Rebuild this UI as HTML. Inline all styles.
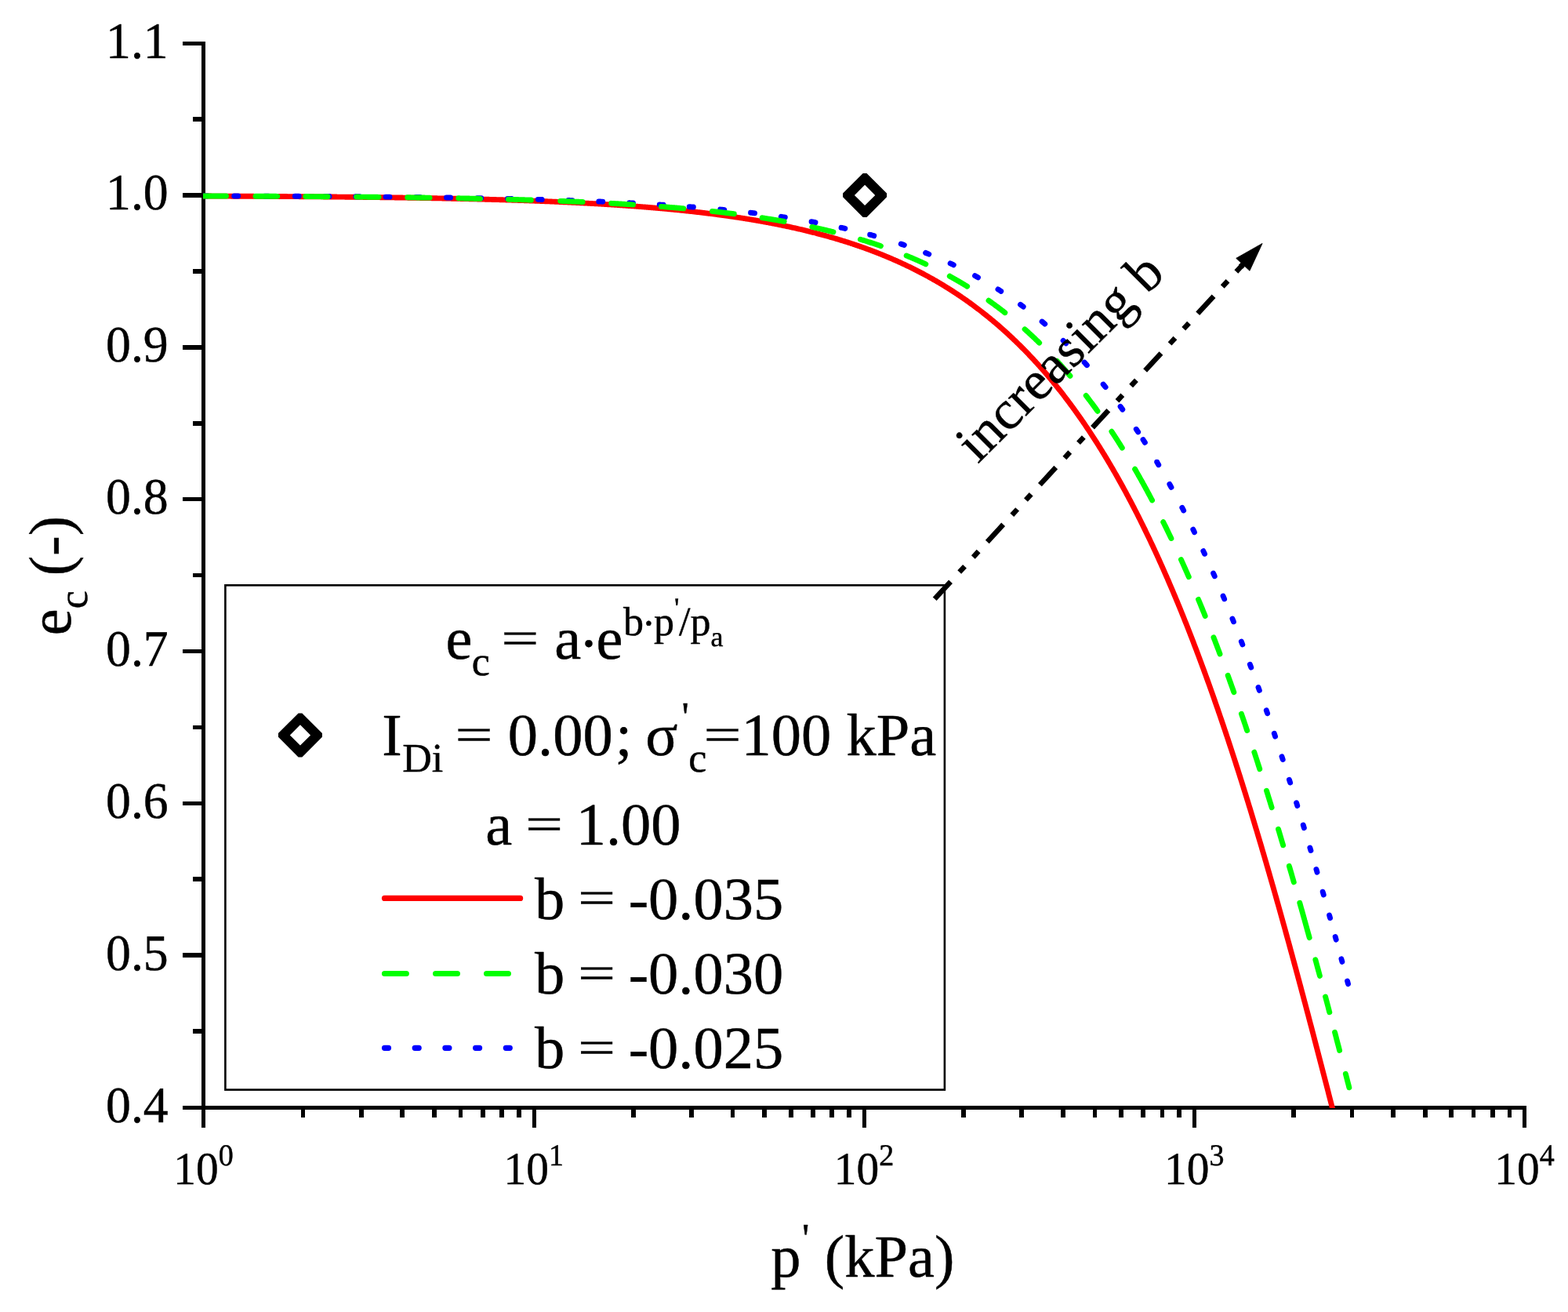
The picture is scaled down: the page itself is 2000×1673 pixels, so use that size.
<!DOCTYPE html>
<html lang="en">
<head>
<meta charset="utf-8">
<title>e_c versus p' chart</title>
<style>
html,body{margin:0;padding:0;background:#fff;}
body{width:2000px;height:1673px;overflow:hidden;}
svg{display:block;}
.t, .t text{font-family:"Liberation Serif","DejaVu Serif",serif;fill:#000;stroke:#000;stroke-width:0.45px;stroke-linejoin:round;text-rendering:geometricPrecision;}
</style>
</head>
<body>
<svg width="2000" height="1673" viewBox="0 0 2000 1673">
<rect x="0" y="0" width="2000" height="1673" fill="#fff"/>
<g fill="#000" shape-rendering="crispEdges">
<rect x="257" y="53" width="5" height="1385"/>
<rect x="233" y="1410" width="1714" height="5"/>
<rect x="233" y="53" width="24" height="5"/>
<rect x="246" y="149" width="11" height="6"/>
<rect x="233" y="246" width="24" height="6"/>
<rect x="246" y="343" width="11" height="6"/>
<rect x="233" y="440" width="24" height="6"/>
<rect x="246" y="537" width="11" height="6"/>
<rect x="233" y="634" width="24" height="5"/>
<rect x="246" y="731" width="11" height="5"/>
<rect x="233" y="828" width="24" height="5"/>
<rect x="246" y="925" width="11" height="5"/>
<rect x="233" y="1022" width="24" height="5"/>
<rect x="246" y="1118" width="11" height="6"/>
<rect x="233" y="1215" width="24" height="6"/>
<rect x="246" y="1312" width="11" height="6"/>
<rect x="233" y="1410" width="24" height="5"/>
<rect x="257" y="1415" width="5" height="23"/>
<rect x="384" y="1415" width="5" height="10"/>
<rect x="458" y="1415" width="6" height="10"/>
<rect x="510" y="1415" width="6" height="10"/>
<rect x="551" y="1415" width="6" height="10"/>
<rect x="585" y="1415" width="5" height="10"/>
<rect x="613" y="1415" width="6" height="10"/>
<rect x="637" y="1415" width="6" height="10"/>
<rect x="659" y="1415" width="6" height="10"/>
<rect x="679" y="1415" width="5" height="23"/>
<rect x="805" y="1415" width="6" height="10"/>
<rect x="879" y="1415" width="6" height="10"/>
<rect x="932" y="1415" width="5" height="10"/>
<rect x="972" y="1415" width="6" height="10"/>
<rect x="1006" y="1415" width="6" height="10"/>
<rect x="1034" y="1415" width="6" height="10"/>
<rect x="1058" y="1415" width="6" height="10"/>
<rect x="1080" y="1415" width="6" height="10"/>
<rect x="1100" y="1415" width="5" height="23"/>
<rect x="1226" y="1415" width="6" height="10"/>
<rect x="1300" y="1415" width="6" height="10"/>
<rect x="1353" y="1415" width="6" height="10"/>
<rect x="1394" y="1415" width="5" height="10"/>
<rect x="1427" y="1415" width="6" height="10"/>
<rect x="1455" y="1415" width="6" height="10"/>
<rect x="1480" y="1415" width="5" height="10"/>
<rect x="1501" y="1415" width="6" height="10"/>
<rect x="1521" y="1415" width="5" height="23"/>
<rect x="1647" y="1415" width="6" height="10"/>
<rect x="1722" y="1415" width="5" height="10"/>
<rect x="1774" y="1415" width="6" height="10"/>
<rect x="1815" y="1415" width="6" height="10"/>
<rect x="1848" y="1415" width="6" height="10"/>
<rect x="1877" y="1415" width="5" height="10"/>
<rect x="1901" y="1415" width="6" height="10"/>
<rect x="1923" y="1415" width="5" height="10"/>
<rect x="1942" y="1415" width="5" height="23"/>
</g>
<clipPath id="plotclip"><rect x="259" y="0" width="1741" height="1413"/></clipPath>
<g fill="none" stroke-linejoin="round" clip-path="url(#plotclip)">
<path d="M259.50,250.04 L260.48,250.04 L261.45,250.04 L262.43,250.05 L263.41,250.05 L264.38,250.05 L265.36,250.06 L266.34,250.06 L267.31,250.07 L268.29,250.07 L269.26,250.07 L270.24,250.08 L271.22,250.08 L272.19,250.08 L273.17,250.09 L274.15,250.09 L275.12,250.10 L276.10,250.10 L277.08,250.10 L278.05,250.11 L279.03,250.11 L280.01,250.12 L280.98,250.12 L281.96,250.12 L282.94,250.13 L283.91,250.13 L284.89,250.14 L285.87,250.14 L286.84,250.14 L287.82,250.15 L288.79,250.15 L289.77,250.16 L290.75,250.16 L291.72,250.17 L292.70,250.17 L293.68,250.17 L294.65,250.18 L295.63,250.18 L296.61,250.19 L297.58,250.19 L298.56,250.20 L299.54,250.20 L300.51,250.21 L301.49,250.21 L302.47,250.22 L303.44,250.22 L304.42,250.22 L305.40,250.23 L306.37,250.23 L307.35,250.24 L308.32,250.24 L309.30,250.25 L310.28,250.25 L311.25,250.26 L312.23,250.26 L313.21,250.27 L314.18,250.27 L315.16,250.28 L316.14,250.28 L317.11,250.29 L318.09,250.29 L319.07,250.30 L320.04,250.30 L321.02,250.31 L322.00,250.31 L322.97,250.32 L323.95,250.32 L324.92,250.33 L325.90,250.33 L326.88,250.34 L327.85,250.34 L328.83,250.35 L329.81,250.35 L330.78,250.36 L331.76,250.36 L332.74,250.37 L333.71,250.37 L334.69,250.38 L335.67,250.39 L336.64,250.39 L337.62,250.40 L338.60,250.40 L339.57,250.41 L340.55,250.41 L341.53,250.42 L342.50,250.42 L343.48,250.43 L344.45,250.44 L345.43,250.44 L346.41,250.45 L347.38,250.45 L348.36,250.46 L349.34,250.47 L350.31,250.47 L351.29,250.48 L352.27,250.48 L353.24,250.49 L354.22,250.50 L355.20,250.50 L356.17,250.51 L357.15,250.51 L358.13,250.52 L359.10,250.53 L360.08,250.53 L361.06,250.54 L362.03,250.55 L363.01,250.55 L363.98,250.56 L364.96,250.56 L365.94,250.57 L366.91,250.58 L367.89,250.58 L368.87,250.59 L369.84,250.60 L370.82,250.60 L371.80,250.61 L372.77,250.62 L373.75,250.62 L374.73,250.63 L375.70,250.64 L376.68,250.64 L377.66,250.65 L378.63,250.66 L379.61,250.66 L380.58,250.67 L381.56,250.68 L382.54,250.69 L383.51,250.69 L384.49,250.70 L385.47,250.71 L386.44,250.71 L387.42,250.72 L388.40,250.73 L389.37,250.74 L390.35,250.74 L391.33,250.75 L392.30,250.76 L393.28,250.77 L394.26,250.77 L395.23,250.78 L396.21,250.79 L397.19,250.80 L398.16,250.80 L399.14,250.81 L400.11,250.82 L401.09,250.83 L402.07,250.84 L403.04,250.84 L404.02,250.85 L405.00,250.86 L405.97,250.87 L406.95,250.88 L407.93,250.88 L408.90,250.89 L409.88,250.90 L410.86,250.91 L411.83,250.92 L412.81,250.93 L413.79,250.93 L414.76,250.94 L415.74,250.95 L416.72,250.96 L417.69,250.97 L418.67,250.98 L419.64,250.98 L420.62,250.99 L421.60,251.00 L422.57,251.01 L423.55,251.02 L424.53,251.03 L425.50,251.04 L426.48,251.05 L427.46,251.06 L428.43,251.06 L429.41,251.07 L430.39,251.08 L431.36,251.09 L432.34,251.10 L433.32,251.11 L434.29,251.12 L435.27,251.13 L436.24,251.14 L437.22,251.15 L438.20,251.16 L439.17,251.17 L440.15,251.18 L441.13,251.19 L442.10,251.20 L443.08,251.21 L444.06,251.22 L445.03,251.23 L446.01,251.24 L446.99,251.25 L447.96,251.26 L448.94,251.27 L449.92,251.28 L450.89,251.29 L451.87,251.30 L452.85,251.31 L453.82,251.32 L454.80,251.33 L455.77,251.34 L456.75,251.35 L457.73,251.36 L458.70,251.37 L459.68,251.38 L460.66,251.39 L461.63,251.40 L462.61,251.42 L463.59,251.43 L464.56,251.44 L465.54,251.45 L466.52,251.46 L467.49,251.47 L468.47,251.48 L469.45,251.49 L470.42,251.51 L471.40,251.52 L472.38,251.53 L473.35,251.54 L474.33,251.55 L475.30,251.56 L476.28,251.57 L477.26,251.59 L478.23,251.60 L479.21,251.61 L480.19,251.62 L481.16,251.63 L482.14,251.65 L483.12,251.66 L484.09,251.67 L485.07,251.68 L486.05,251.70 L487.02,251.71 L488.00,251.72 L488.98,251.73 L489.95,251.75 L490.93,251.76 L491.90,251.77 L492.88,251.79 L493.86,251.80 L494.83,251.81 L495.81,251.82 L496.79,251.84 L497.76,251.85 L498.74,251.86 L499.72,251.88 L500.69,251.89 L501.67,251.90 L502.65,251.92 L503.62,251.93 L504.60,251.95 L505.58,251.96 L506.55,251.97 L507.53,251.99 L508.51,252.00 L509.48,252.02 L510.46,252.03 L511.43,252.04 L512.41,252.06 L513.39,252.07 L514.36,252.09 L515.34,252.10 L516.32,252.12 L517.29,252.13 L518.27,252.15 L519.25,252.16 L520.22,252.18 L521.20,252.19 L522.18,252.21 L523.15,252.22 L524.13,252.24 L525.11,252.25 L526.08,252.27 L527.06,252.28 L528.04,252.30 L529.01,252.32 L529.99,252.33 L530.96,252.35 L531.94,252.36 L532.92,252.38 L533.89,252.40 L534.87,252.41 L535.85,252.43 L536.82,252.44 L537.80,252.46 L538.78,252.48 L539.75,252.49 L540.73,252.51 L541.71,252.53 L542.68,252.54 L543.66,252.56 L544.64,252.58 L545.61,252.60 L546.59,252.61 L547.57,252.63 L548.54,252.65 L549.52,252.67 L550.49,252.68 L551.47,252.70 L552.45,252.72 L553.42,252.74 L554.40,252.76 L555.38,252.77 L556.35,252.79 L557.33,252.81 L558.31,252.83 L559.28,252.85 L560.26,252.87 L561.24,252.88 L562.21,252.90 L563.19,252.92 L564.17,252.94 L565.14,252.96 L566.12,252.98 L567.09,253.00 L568.07,253.02 L569.05,253.04 L570.02,253.06 L571.00,253.08 L571.98,253.10 L572.95,253.12 L573.93,253.14 L574.91,253.16 L575.88,253.18 L576.86,253.20 L577.84,253.22 L578.81,253.24 L579.79,253.26 L580.77,253.28 L581.74,253.30 L582.72,253.32 L583.70,253.34 L584.67,253.37 L585.65,253.39 L586.62,253.41 L587.60,253.43 L588.58,253.45 L589.55,253.47 L590.53,253.50 L591.51,253.52 L592.48,253.54 L593.46,253.56 L594.44,253.59 L595.41,253.61 L596.39,253.63 L597.37,253.65 L598.34,253.68 L599.32,253.70 L600.30,253.72 L601.27,253.75 L602.25,253.77 L603.23,253.79 L604.20,253.82 L605.18,253.84 L606.15,253.86 L607.13,253.89 L608.11,253.91 L609.08,253.94 L610.06,253.96 L611.04,253.99 L612.01,254.01 L612.99,254.04 L613.97,254.06 L614.94,254.09 L615.92,254.11 L616.90,254.14 L617.87,254.16 L618.85,254.19 L619.83,254.21 L620.80,254.24 L621.78,254.27 L622.75,254.29 L623.73,254.32 L624.71,254.35 L625.68,254.37 L626.66,254.40 L627.64,254.43 L628.61,254.45 L629.59,254.48 L630.57,254.51 L631.54,254.54 L632.52,254.56 L633.50,254.59 L634.47,254.62 L635.45,254.65 L636.43,254.67 L637.40,254.70 L638.38,254.73 L639.36,254.76 L640.33,254.79 L641.31,254.82 L642.28,254.85 L643.26,254.88 L644.24,254.91 L645.21,254.94 L646.19,254.97 L647.17,255.00 L648.14,255.03 L649.12,255.06 L650.10,255.09 L651.07,255.12 L652.05,255.15 L653.03,255.18 L654.00,255.21 L654.98,255.24 L655.96,255.27 L656.93,255.30 L657.91,255.34 L658.89,255.37 L659.86,255.40 L660.84,255.43 L661.81,255.47 L662.79,255.50 L663.77,255.53 L664.74,255.56 L665.72,255.60 L666.70,255.63 L667.67,255.66 L668.65,255.70 L669.63,255.73 L670.60,255.77 L671.58,255.80 L672.56,255.83 L673.53,255.87 L674.51,255.90 L675.49,255.94 L676.46,255.97 L677.44,256.01 L678.41,256.04 L679.39,256.08 L680.37,256.12 L681.34,256.15 L682.32,256.19 L683.30,256.23 L684.27,256.26 L685.25,256.30 L686.23,256.34 L687.20,256.37 L688.18,256.41 L689.16,256.45 L690.13,256.49 L691.11,256.52 L692.09,256.56 L693.06,256.60 L694.04,256.64 L695.02,256.68 L695.99,256.72 L696.97,256.76 L697.94,256.80 L698.92,256.84 L699.90,256.88 L700.87,256.92 L701.85,256.96 L702.83,257.00 L703.80,257.04 L704.78,257.08 L705.76,257.12 L706.73,257.16 L707.71,257.20 L708.69,257.25 L709.66,257.29 L710.64,257.33 L711.62,257.37 L712.59,257.42 L713.57,257.46 L714.55,257.50 L715.52,257.55 L716.50,257.59 L717.47,257.63 L718.45,257.68 L719.43,257.72 L720.40,257.77 L721.38,257.81 L722.36,257.86 L723.33,257.90 L724.31,257.95 L725.29,257.99 L726.26,258.04 L727.24,258.09 L728.22,258.13 L729.19,258.18 L730.17,258.23 L731.15,258.27 L732.12,258.32 L733.10,258.37 L734.07,258.42 L735.05,258.47 L736.03,258.51 L737.00,258.56 L737.98,258.61 L738.96,258.66 L739.93,258.71 L740.91,258.76 L741.89,258.81 L742.86,258.86 L743.84,258.91 L744.82,258.96 L745.79,259.01 L746.77,259.07 L747.75,259.12 L748.72,259.17 L749.70,259.22 L750.68,259.28 L751.65,259.33 L752.63,259.38 L753.60,259.43 L754.58,259.49 L755.56,259.54 L756.53,259.60 L757.51,259.65 L758.49,259.71 L759.46,259.76 L760.44,259.82 L761.42,259.87 L762.39,259.93 L763.37,259.99 L764.35,260.04 L765.32,260.10 L766.30,260.16 L767.28,260.21 L768.25,260.27 L769.23,260.33 L770.21,260.39 L771.18,260.45 L772.16,260.51 L773.13,260.57 L774.11,260.63 L775.09,260.69 L776.06,260.75 L777.04,260.81 L778.02,260.87 L778.99,260.93 L779.97,260.99 L780.95,261.05 L781.92,261.12 L782.90,261.18 L783.88,261.24 L784.85,261.31 L785.83,261.37 L786.81,261.43 L787.78,261.50 L788.76,261.56 L789.73,261.63 L790.71,261.69 L791.69,261.76 L792.66,261.83 L793.64,261.89 L794.62,261.96 L795.59,262.03 L796.57,262.09 L797.55,262.16 L798.52,262.23 L799.50,262.30 L800.48,262.37 L801.45,262.44 L802.43,262.51 L803.41,262.58 L804.38,262.65 L805.36,262.72 L806.34,262.79 L807.31,262.86 L808.29,262.93 L809.26,263.01 L810.24,263.08 L811.22,263.15 L812.19,263.23 L813.17,263.30 L814.15,263.37 L815.12,263.45 L816.10,263.52 L817.08,263.60 L818.05,263.68 L819.03,263.75 L820.01,263.83 L820.98,263.91 L821.96,263.98 L822.94,264.06 L823.91,264.14 L824.89,264.22 L825.87,264.30 L826.84,264.38 L827.82,264.46 L828.79,264.54 L829.77,264.62 L830.75,264.70 L831.72,264.78 L832.70,264.86 L833.68,264.95 L834.65,265.03 L835.63,265.11 L836.61,265.20 L837.58,265.28 L838.56,265.37 L839.54,265.45 L840.51,265.54 L841.49,265.62 L842.47,265.71 L843.44,265.80 L844.42,265.89 L845.39,265.97 L846.37,266.06 L847.35,266.15 L848.32,266.24 L849.30,266.33 L850.28,266.42 L851.25,266.51 L852.23,266.60 L853.21,266.69 L854.18,266.79 L855.16,266.88 L856.14,266.97 L857.11,267.07 L858.09,267.16 L859.07,267.26 L860.04,267.35 L861.02,267.45 L862.00,267.54 L862.97,267.64 L863.95,267.74 L864.92,267.84 L865.90,267.93 L866.88,268.03 L867.85,268.13 L868.83,268.23 L869.81,268.33 L870.78,268.43 L871.76,268.54 L872.74,268.64 L873.71,268.74 L874.69,268.84 L875.67,268.95 L876.64,269.05 L877.62,269.16 L878.60,269.26 L879.57,269.37 L880.55,269.48 L881.53,269.58 L882.50,269.69 L883.48,269.80 L884.45,269.91 L885.43,270.02 L886.41,270.13 L887.38,270.24 L888.36,270.35 L889.34,270.46 L890.31,270.57 L891.29,270.69 L892.27,270.80 L893.24,270.91 L894.22,271.03 L895.20,271.14 L896.17,271.26 L897.15,271.38 L898.13,271.49 L899.10,271.61 L900.08,271.73 L901.05,271.85 L902.03,271.97 L903.01,272.09 L903.98,272.21 L904.96,272.33 L905.94,272.45 L906.91,272.58 L907.89,272.70 L908.87,272.82 L909.84,272.95 L910.82,273.07 L911.80,273.20 L912.77,273.33 L913.75,273.45 L914.73,273.58 L915.70,273.71 L916.68,273.84 L917.66,273.97 L918.63,274.10 L919.61,274.23 L920.58,274.36 L921.56,274.50 L922.54,274.63 L923.51,274.77 L924.49,274.90 L925.47,275.04 L926.44,275.17 L927.42,275.31 L928.40,275.45 L929.37,275.59 L930.35,275.73 L931.33,275.87 L932.30,276.01 L933.28,276.15 L934.26,276.29 L935.23,276.43 L936.21,276.58 L937.19,276.72 L938.16,276.87 L939.14,277.01 L940.11,277.16 L941.09,277.31 L942.07,277.46 L943.04,277.61 L944.02,277.76 L945.00,277.91 L945.97,278.06 L946.95,278.21 L947.93,278.37 L948.90,278.52 L949.88,278.67 L950.86,278.83 L951.83,278.99 L952.81,279.14 L953.79,279.30 L954.76,279.46 L955.74,279.62 L956.71,279.78 L957.69,279.94 L958.67,280.11 L959.64,280.27 L960.62,280.43 L961.60,280.60 L962.57,280.76 L963.55,280.93 L964.53,281.10 L965.50,281.27 L966.48,281.44 L967.46,281.61 L968.43,281.78 L969.41,281.95 L970.39,282.12 L971.36,282.30 L972.34,282.47 L973.32,282.65 L974.29,282.82 L975.27,283.00 L976.24,283.18 L977.22,283.36 L978.20,283.54 L979.17,283.72 L980.15,283.90 L981.13,284.09 L982.10,284.27 L983.08,284.46 L984.06,284.64 L985.03,284.83 L986.01,285.02 L986.99,285.21 L987.96,285.40 L988.94,285.59 L989.92,285.78 L990.89,285.97 L991.87,286.17 L992.85,286.36 L993.82,286.56 L994.80,286.75 L995.77,286.95 L996.75,287.15 L997.73,287.35 L998.70,287.55 L999.68,287.76 L1000.66,287.96 L1001.63,288.16 L1002.61,288.37 L1003.59,288.58 L1004.56,288.78 L1005.54,288.99 L1006.52,289.20 L1007.49,289.41 L1008.47,289.63 L1009.45,289.84 L1010.42,290.05 L1011.40,290.27 L1012.37,290.49 L1013.35,290.70 L1014.33,290.92 L1015.30,291.14 L1016.28,291.36 L1017.26,291.59 L1018.23,291.81 L1019.21,292.03 L1020.19,292.26 L1021.16,292.49 L1022.14,292.72 L1023.12,292.94 L1024.09,293.18 L1025.07,293.41 L1026.05,293.64 L1027.02,293.87 L1028.00,294.11 L1028.98,294.35 L1029.95,294.58 L1030.93,294.82 L1031.90,295.06 L1032.88,295.31 L1033.86,295.55 L1034.83,295.79 L1035.81,296.04 L1036.79,296.29 L1037.76,296.53 L1038.74,296.78 L1039.72,297.03 L1040.69,297.29 L1041.67,297.54 L1042.65,297.79 L1043.62,298.05 L1044.60,298.31 L1045.58,298.56 L1046.55,298.82 L1047.53,299.09 L1048.51,299.35 L1049.48,299.61 L1050.46,299.88 L1051.43,300.15 L1052.41,300.41 L1053.39,300.68 L1054.36,300.95 L1055.34,301.23 L1056.32,301.50 L1057.29,301.78 L1058.27,302.05 L1059.25,302.33 L1060.22,302.61 L1061.20,302.89 L1062.18,303.17 L1063.15,303.46 L1064.13,303.74 L1065.11,304.03 L1066.08,304.32 L1067.06,304.61 L1068.04,304.90 L1069.01,305.19 L1069.99,305.49 L1070.96,305.78 L1071.94,306.08 L1072.92,306.38 L1073.89,306.68 L1074.87,306.98 L1075.85,307.29 L1076.82,307.59 L1077.80,307.90 L1078.78,308.21 L1079.75,308.52 L1080.73,308.83 L1081.71,309.14 L1082.68,309.46 L1083.66,309.77 L1084.64,310.09 L1085.61,310.41 L1086.59,310.73 L1087.56,311.06 L1088.54,311.38 L1089.52,311.71 L1090.49,312.04 L1091.47,312.37 L1092.45,312.70 L1093.42,313.03 L1094.40,313.37 L1095.38,313.70 L1096.35,314.04 L1097.33,314.38 L1098.31,314.72 L1099.28,315.07 L1100.26,315.41 L1101.24,315.76 L1102.21,316.11 L1103.19,316.46 L1104.17,316.81 L1105.14,317.17 L1106.12,317.52 L1107.09,317.88 L1108.07,318.24 L1109.05,318.60 L1110.02,318.97 L1111.00,319.33 L1111.98,319.70 L1112.95,320.07 L1113.93,320.44 L1114.91,320.82 L1115.88,321.19 L1116.86,321.57 L1117.84,321.95 L1118.81,322.33 L1119.79,322.71 L1120.77,323.10 L1121.74,323.48 L1122.72,323.87 L1123.70,324.26 L1124.67,324.66 L1125.65,325.05 L1126.62,325.45 L1127.60,325.85 L1128.58,326.25 L1129.55,326.65 L1130.53,327.06 L1131.51,327.47 L1132.48,327.87 L1133.46,328.29 L1134.44,328.70 L1135.41,329.12 L1136.39,329.53 L1137.37,329.95 L1138.34,330.38 L1139.32,330.80 L1140.30,331.23 L1141.27,331.66 L1142.25,332.09 L1143.22,332.52 L1144.20,332.95 L1145.18,333.39 L1146.15,333.83 L1147.13,334.27 L1148.11,334.72 L1149.08,335.17 L1150.06,335.61 L1151.04,336.07 L1152.01,336.52 L1152.99,336.97 L1153.97,337.43 L1154.94,337.89 L1155.92,338.36 L1156.90,338.82 L1157.87,339.29 L1158.85,339.76 L1159.83,340.23 L1160.80,340.71 L1161.78,341.18 L1162.75,341.66 L1163.73,342.14 L1164.71,342.63 L1165.68,343.12 L1166.66,343.60 L1167.64,344.10 L1168.61,344.59 L1169.59,345.09 L1170.57,345.59 L1171.54,346.09 L1172.52,346.59 L1173.50,347.10 L1174.47,347.61 L1175.45,348.12 L1176.43,348.64 L1177.40,349.15 L1178.38,349.67 L1179.36,350.20 L1180.33,350.72 L1181.31,351.25 L1182.28,351.78 L1183.26,352.31 L1184.24,352.85 L1185.21,353.39 L1186.19,353.93 L1187.17,354.48 L1188.14,355.02 L1189.12,355.57 L1190.10,356.12 L1191.07,356.68 L1192.05,357.24 L1193.03,357.80 L1194.00,358.36 L1194.98,358.93 L1195.96,359.50 L1196.93,360.07 L1197.91,360.65 L1198.88,361.22 L1199.86,361.80 L1200.84,362.39 L1201.81,362.98 L1202.79,363.57 L1203.77,364.16 L1204.74,364.75 L1205.72,365.35 L1206.70,365.95 L1207.67,366.56 L1208.65,367.17 L1209.63,367.78 L1210.60,368.39 L1211.58,369.01 L1212.56,369.63 L1213.53,370.25 L1214.51,370.88 L1215.49,371.51 L1216.46,372.14 L1217.44,372.78 L1218.41,373.41 L1219.39,374.06 L1220.37,374.70 L1221.34,375.35 L1222.32,376.00 L1223.30,376.66 L1224.27,377.32 L1225.25,377.98 L1226.23,378.64 L1227.20,379.31 L1228.18,379.98 L1229.16,380.66 L1230.13,381.34 L1231.11,382.02 L1232.09,382.70 L1233.06,383.39 L1234.04,384.08 L1235.02,384.78 L1235.99,385.48 L1236.97,386.18 L1237.94,386.88 L1238.92,387.59 L1239.90,388.31 L1240.87,389.02 L1241.85,389.74 L1242.83,390.46 L1243.80,391.19 L1244.78,391.92 L1245.76,392.66 L1246.73,393.39 L1247.71,394.13 L1248.69,394.88 L1249.66,395.63 L1250.64,396.38 L1251.62,397.14 L1252.59,397.90 L1253.57,398.66 L1254.54,399.43 L1255.52,400.20 L1256.50,400.97 L1257.47,401.75 L1258.45,402.53 L1259.43,403.32 L1260.40,404.11 L1261.38,404.91 L1262.36,405.70 L1263.33,406.51 L1264.31,407.31 L1265.29,408.12 L1266.26,408.93 L1267.24,409.75 L1268.22,410.57 L1269.19,411.40 L1270.17,412.23 L1271.15,413.06 L1272.12,413.90 L1273.10,414.74 L1274.07,415.59 L1275.05,416.44 L1276.03,417.29 L1277.00,418.15 L1277.98,419.01 L1278.96,419.88 L1279.93,420.75 L1280.91,421.63 L1281.89,422.51 L1282.86,423.39 L1283.84,424.28 L1284.82,425.17 L1285.79,426.07 L1286.77,426.97 L1287.75,427.87 L1288.72,428.78 L1289.70,429.70 L1290.68,430.62 L1291.65,431.54 L1292.63,432.47 L1293.60,433.40 L1294.58,434.34 L1295.56,435.28 L1296.53,436.22 L1297.51,437.17 L1298.49,438.13 L1299.46,439.09 L1300.44,440.05 L1301.42,441.02 L1302.39,441.99 L1303.37,442.97 L1304.35,443.95 L1305.32,444.94 L1306.30,445.93 L1307.28,446.93 L1308.25,447.93 L1309.23,448.93 L1310.20,449.94 L1311.18,450.96 L1312.16,451.98 L1313.13,453.01 L1314.11,454.04 L1315.09,455.07 L1316.06,456.11 L1317.04,457.16 L1318.02,458.21 L1318.99,459.26 L1319.97,460.32 L1320.95,461.39 L1321.92,462.46 L1322.90,463.53 L1323.88,464.61 L1324.85,465.70 L1325.83,466.79 L1326.81,467.88 L1327.78,468.98 L1328.76,470.09 L1329.73,471.20 L1330.71,472.32 L1331.69,473.44 L1332.66,474.56 L1333.64,475.70 L1334.62,476.83 L1335.59,477.98 L1336.57,479.12 L1337.55,480.28 L1338.52,481.44 L1339.50,482.60 L1340.48,483.77 L1341.45,484.94 L1342.43,486.12 L1343.41,487.31 L1344.38,488.50 L1345.36,489.70 L1346.34,490.90 L1347.31,492.11 L1348.29,493.32 L1349.26,494.54 L1350.24,495.77 L1351.22,497.00 L1352.19,498.24 L1353.17,499.48 L1354.15,500.73 L1355.12,501.98 L1356.10,503.24 L1357.08,504.50 L1358.05,505.77 L1359.03,507.05 L1360.01,508.33 L1360.98,509.62 L1361.96,510.92 L1362.94,512.22 L1363.91,513.52 L1364.89,514.84 L1365.86,516.15 L1366.84,517.48 L1367.82,518.81 L1368.79,520.14 L1369.77,521.49 L1370.75,522.84 L1371.72,524.19 L1372.70,525.55 L1373.68,526.92 L1374.65,528.29 L1375.63,529.67 L1376.61,531.06 L1377.58,532.45 L1378.56,533.85 L1379.54,535.25 L1380.51,536.66 L1381.49,538.08 L1382.47,539.50 L1383.44,540.93 L1384.42,542.37 L1385.39,543.81 L1386.37,545.26 L1387.35,546.71 L1388.32,548.18 L1389.30,549.64 L1390.28,551.12 L1391.25,552.60 L1392.23,554.09 L1393.21,555.58 L1394.18,557.08 L1395.16,558.59 L1396.14,560.11 L1397.11,561.63 L1398.09,563.16 L1399.07,564.69 L1400.04,566.23 L1401.02,567.78 L1402.00,569.34 L1402.97,570.90 L1403.95,572.47 L1404.92,574.04 L1405.90,575.62 L1406.88,577.21 L1407.85,578.81 L1408.83,580.41 L1409.81,582.02 L1410.78,583.64 L1411.76,585.27 L1412.74,586.90 L1413.71,588.53 L1414.69,590.18 L1415.67,591.83 L1416.64,593.49 L1417.62,595.16 L1418.60,596.83 L1419.57,598.51 L1420.55,600.20 L1421.52,601.90 L1422.50,603.60 L1423.48,605.31 L1424.45,607.03 L1425.43,608.75 L1426.41,610.49 L1427.38,612.22 L1428.36,613.97 L1429.34,615.73 L1430.31,617.49 L1431.29,619.26 L1432.27,621.03 L1433.24,622.82 L1434.22,624.61 L1435.20,626.41 L1436.17,628.21 L1437.15,630.03 L1438.13,631.85 L1439.10,633.68 L1440.08,635.52 L1441.05,637.36 L1442.03,639.21 L1443.01,641.07 L1443.98,642.94 L1444.96,644.81 L1445.94,646.70 L1446.91,648.59 L1447.89,650.49 L1448.87,652.39 L1449.84,654.31 L1450.82,656.23 L1451.80,658.16 L1452.77,660.10 L1453.75,662.04 L1454.73,664.00 L1455.70,665.96 L1456.68,667.93 L1457.66,669.90 L1458.63,671.89 L1459.61,673.88 L1460.58,675.88 L1461.56,677.89 L1462.54,679.91 L1463.51,681.94 L1464.49,683.97 L1465.47,686.01 L1466.44,688.06 L1467.42,690.12 L1468.40,692.19 L1469.37,694.26 L1470.35,696.34 L1471.33,698.44 L1472.30,700.53 L1473.28,702.64 L1474.26,704.76 L1475.23,706.88 L1476.21,709.01 L1477.18,711.15 L1478.16,713.30 L1479.14,715.46 L1480.11,717.63 L1481.09,719.80 L1482.07,721.98 L1483.04,724.17 L1484.02,726.37 L1485.00,728.58 L1485.97,730.80 L1486.95,733.02 L1487.93,735.25 L1488.90,737.50 L1489.88,739.75 L1490.86,742.00 L1491.83,744.27 L1492.81,746.55 L1493.79,748.83 L1494.76,751.12 L1495.74,753.43 L1496.71,755.74 L1497.69,758.05 L1498.67,760.38 L1499.64,762.72 L1500.62,765.06 L1501.60,767.42 L1502.57,769.78 L1503.55,772.15 L1504.53,774.53 L1505.50,776.91 L1506.48,779.31 L1507.46,781.72 L1508.43,784.13 L1509.41,786.55 L1510.39,788.99 L1511.36,791.43 L1512.34,793.87 L1513.32,796.33 L1514.29,798.80 L1515.27,801.28 L1516.24,803.76 L1517.22,806.25 L1518.20,808.75 L1519.17,811.27 L1520.15,813.78 L1521.13,816.31 L1522.10,818.85 L1523.08,821.40 L1524.06,823.95 L1525.03,826.52 L1526.01,829.09 L1526.99,831.67 L1527.96,834.26 L1528.94,836.86 L1529.92,839.47 L1530.89,842.08 L1531.87,844.71 L1532.84,847.35 L1533.82,849.99 L1534.80,852.64 L1535.77,855.30 L1536.75,857.97 L1537.73,860.65 L1538.70,863.34 L1539.68,866.04 L1540.66,868.74 L1541.63,871.46 L1542.61,874.18 L1543.59,876.92 L1544.56,879.66 L1545.54,882.41 L1546.52,885.17 L1547.49,887.93 L1548.47,890.71 L1549.45,893.50 L1550.42,896.29 L1551.40,899.10 L1552.37,901.91 L1553.35,904.73 L1554.33,907.56 L1555.30,910.40 L1556.28,913.25 L1557.26,916.11 L1558.23,918.97 L1559.21,921.85 L1560.19,924.73 L1561.16,927.62 L1562.14,930.52 L1563.12,933.43 L1564.09,936.35 L1565.07,939.28 L1566.05,942.21 L1567.02,945.16 L1568.00,948.11 L1568.98,951.08 L1569.95,954.05 L1570.93,957.03 L1571.90,960.01 L1572.88,963.01 L1573.86,966.02 L1574.83,969.03 L1575.81,972.06 L1576.79,975.09 L1577.76,978.13 L1578.74,981.18 L1579.72,984.23 L1580.69,987.30 L1581.67,990.37 L1582.65,993.46 L1583.62,996.55 L1584.60,999.65 L1585.58,1002.76 L1586.55,1005.87 L1587.53,1009.00 L1588.51,1012.13 L1589.48,1015.28 L1590.46,1018.43 L1591.43,1021.59 L1592.41,1024.75 L1593.39,1027.93 L1594.36,1031.11 L1595.34,1034.30 L1596.32,1037.50 L1597.29,1040.71 L1598.27,1043.93 L1599.25,1047.15 L1600.22,1050.39 L1601.20,1053.63 L1602.18,1056.88 L1603.15,1060.13 L1604.13,1063.40 L1605.11,1066.67 L1606.08,1069.95 L1607.06,1073.24 L1608.03,1076.54 L1609.01,1079.84 L1609.99,1083.15 L1610.96,1086.47 L1611.94,1089.80 L1612.92,1093.13 L1613.89,1096.48 L1614.87,1099.83 L1615.85,1103.18 L1616.82,1106.55 L1617.80,1109.92 L1618.78,1113.30 L1619.75,1116.69 L1620.73,1120.09 L1621.71,1123.49 L1622.68,1126.90 L1623.66,1130.32 L1624.64,1133.74 L1625.61,1137.17 L1626.59,1140.61 L1627.56,1144.05 L1628.54,1147.51 L1629.52,1150.97 L1630.49,1154.43 L1631.47,1157.91 L1632.45,1161.39 L1633.42,1164.87 L1634.40,1168.37 L1635.38,1171.87 L1636.35,1175.37 L1637.33,1178.89 L1638.31,1182.41 L1639.28,1185.93 L1640.26,1189.47 L1641.24,1193.01 L1642.21,1196.55 L1643.19,1200.10 L1644.17,1203.66 L1645.14,1207.22 L1646.12,1210.79 L1647.09,1214.37 L1648.07,1217.95 L1649.05,1221.54 L1650.02,1225.13 L1651.00,1228.73 L1651.98,1232.34 L1652.95,1235.95 L1653.93,1239.57 L1654.91,1243.19 L1655.88,1246.81 L1656.86,1250.45 L1657.84,1254.09 L1658.81,1257.73 L1659.79,1261.38 L1660.77,1265.03 L1661.74,1268.69 L1662.72,1272.35 L1663.69,1276.02 L1664.67,1279.69 L1665.65,1283.37 L1666.62,1287.06 L1667.60,1290.74 L1668.58,1294.43 L1669.55,1298.13 L1670.53,1301.83 L1671.51,1305.54 L1672.48,1309.24 L1673.46,1312.96 L1674.44,1316.68 L1675.41,1320.40 L1676.39,1324.12 L1677.37,1327.85 L1678.34,1331.58 L1679.32,1335.32 L1680.30,1339.06 L1681.27,1342.80 L1682.25,1346.55 L1683.22,1350.30 L1684.20,1354.05 L1685.18,1357.81 L1686.15,1361.57 L1687.13,1365.33 L1688.11,1369.10 L1689.08,1372.86 L1690.06,1376.64 L1691.04,1380.41 L1692.01,1384.18 L1692.99,1387.96 L1693.97,1391.74 L1694.94,1395.53 L1695.92,1399.31 L1696.90,1403.10 L1697.87,1406.89 L1698.85,1410.68 L1699.83,1414.47 L1700.80,1418.26 L1700.86,1418.50" stroke="#ff0000" stroke-width="6.90" stroke-linecap="butt"/>
<path d="M260.00,249.84 L260.11,249.84 L260.84,249.85 L261.58,249.85 L262.31,249.85 L263.04,249.85 L263.77,249.85 L264.50,249.86 L265.01,249.86 M298.75,249.96 L298.80,249.96 L299.54,249.96 L300.27,249.96 L301.00,249.97 L301.73,249.97 L302.47,249.97 L303.20,249.97 L303.76,249.97 M337.50,250.10 L337.62,250.10 L338.35,250.10 L339.08,250.11 L339.82,250.11 L340.55,250.11 L341.28,250.11 L342.01,250.12 L342.51,250.12 M376.25,250.27 L376.31,250.27 L377.05,250.28 L377.78,250.28 L378.51,250.29 L379.24,250.29 L379.97,250.29 L380.71,250.30 L381.26,250.30 M415.00,250.49 L415.01,250.49 L415.74,250.50 L416.47,250.50 L417.20,250.50 L417.94,250.51 L418.67,250.51 L419.40,250.52 L420.01,250.52 M453.75,250.76 L453.82,250.76 L454.55,250.76 L455.29,250.77 L456.02,250.78 L456.75,250.78 L457.48,250.79 L458.22,250.79 L458.69,250.80 M492.00,251.08 L492.03,251.08 L492.76,251.09 L493.49,251.10 L494.22,251.10 L494.96,251.11 L495.69,251.12 L496.42,251.13 L497.01,251.13 M530.75,251.49 L530.84,251.49 L531.57,251.50 L532.31,251.51 L533.04,251.52 L533.77,251.53 L534.50,251.53 L535.24,251.54 L535.76,251.55 M569.50,251.99 L569.54,251.99 L570.27,252.00 L571.00,252.02 L571.73,252.03 L572.47,252.04 L573.20,252.05 L573.93,252.06 L574.57,252.07 M608.75,252.62 L608.84,252.63 L609.57,252.64 L610.30,252.65 L611.04,252.67 L611.77,252.68 L612.50,252.69 L613.23,252.71 L613.76,252.71 M647.50,253.39 L647.53,253.39 L648.27,253.41 L649.00,253.43 L649.73,253.44 L650.46,253.46 L651.20,253.48 L651.93,253.49 L652.51,253.51 M686.25,254.35 L686.35,254.35 L687.08,254.37 L687.81,254.39 L688.55,254.41 L689.28,254.43 L690.01,254.45 L690.74,254.47 L691.26,254.48 M725.00,255.52 L725.04,255.52 L725.77,255.55 L726.51,255.57 L727.24,255.60 L727.97,255.62 L728.70,255.65 L729.44,255.67 L730.01,255.69 M763.75,256.97 L763.86,256.98 L764.59,257.01 L765.32,257.04 L766.05,257.07 L766.79,257.10 L767.52,257.13 L768.25,257.16 L768.76,257.18 M802.51,258.76 L802.55,258.77 L803.28,258.80 L804.02,258.84 L804.75,258.88 L805.48,258.92 L806.21,258.96 L806.95,258.99 L807.52,259.02 M841.26,260.98 L841.37,260.98 L842.10,261.03 L842.83,261.08 L843.56,261.12 L844.30,261.17 L845.03,261.22 L845.76,261.26 L846.17,261.29 M879.26,263.65 L879.33,263.65 L880.06,263.71 L880.79,263.77 L881.53,263.83 L882.26,263.88 L882.99,263.94 L883.72,264.00 L884.37,264.05 M918.77,267.08 L918.88,267.09 L919.61,267.16 L920.34,267.23 L921.07,267.30 L921.81,267.37 L922.54,267.44 L923.27,267.52 L923.79,267.57 M957.53,271.24 L957.57,271.24 L958.30,271.33 L959.03,271.41 L959.77,271.50 L960.50,271.59 L961.23,271.68 L961.96,271.77 L962.55,271.84 M996.30,276.36 L996.38,276.38 L997.12,276.48 L997.85,276.59 L998.58,276.70 L999.31,276.81 L1000.05,276.92 L1000.78,277.03 L1001.33,277.11 M1035.07,282.68 L1035.08,282.68 L1035.81,282.82 L1036.54,282.95 L1037.28,283.08 L1038.01,283.22 L1038.74,283.35 L1039.47,283.49 L1040.01,283.59 M1073.10,290.30 L1073.16,290.31 L1073.89,290.48 L1074.63,290.64 L1075.36,290.80 L1076.09,290.97 L1076.82,291.13 L1077.56,291.30 L1077.86,291.37 M1109.65,299.24 L1109.66,299.24 L1110.39,299.44 L1111.12,299.64 L1111.86,299.83 L1112.59,300.03 L1113.32,300.24 L1114.05,300.44 L1114.78,300.64 L1114.82,300.65 M1149.22,311.09 L1149.33,311.12 L1150.06,311.37 L1150.79,311.61 L1151.53,311.86 L1152.26,312.11 L1152.99,312.35 L1153.33,312.47 M1180.69,322.45 L1180.70,322.46 L1181.43,322.75 L1182.16,323.03 L1182.89,323.32 L1183.63,323.61 L1184.36,323.91 L1184.82,324.09 M1212.17,335.87 L1212.19,335.88 L1212.92,336.22 L1213.65,336.56 L1214.39,336.90 L1215.12,337.24 L1215.85,337.59 L1216.32,337.81 M1243.58,351.64 L1243.68,351.69 L1244.41,352.09 L1245.15,352.49 L1245.88,352.90 L1246.61,353.30 L1247.34,353.71 L1247.47,353.78 M1272.99,368.92 L1273.10,368.98 L1273.83,369.45 L1274.56,369.92 L1275.30,370.38 L1276.03,370.85 L1276.76,371.33 L1276.78,371.34 M1301.51,388.35 L1301.54,388.37 L1302.27,388.90 L1303.00,389.44 L1303.74,389.98 L1304.47,390.53 L1305.19,391.07 M1329.14,410.04 L1329.25,410.13 L1329.98,410.75 L1330.71,411.37 L1331.44,411.99 L1332.18,412.61 L1332.75,413.10 M1356.16,434.36 L1356.22,434.42 L1356.95,435.12 L1357.69,435.83 L1358.42,436.54 L1359.15,437.25 L1359.69,437.78 M1383.19,462.14 L1383.20,462.15 L1383.93,462.95 L1384.66,463.76 L1385.39,464.57 L1386.13,465.38 L1386.40,465.69 M1407.20,490.05 L1407.24,490.10 L1407.98,491.01 L1408.71,491.91 L1409.44,492.82 L1410.12,493.67 M1429.10,518.43 L1429.21,518.59 L1429.95,519.59 L1430.68,520.60 L1431.41,521.60 L1431.79,522.12 M1449.28,547.27 L1449.35,547.39 L1450.09,548.49 L1450.82,549.59 L1451.55,550.69 L1451.65,550.84 M1458.00,560.58 L1458.02,560.62 L1458.75,561.76 L1459.49,562.91 L1460.22,564.06 L1460.34,564.24 M1475.60,589.08 L1475.60,589.09 L1476.33,590.32 L1477.06,591.56 L1477.75,592.73 M1491.86,617.46 L1491.95,617.64 L1492.69,618.97 L1493.42,620.30 L1493.97,621.31 M1507.83,647.35 L1507.94,647.57 L1508.68,648.99 L1509.41,650.41 L1509.67,650.93 M1521.78,675.13 L1521.86,675.31 L1522.59,676.81 L1523.32,678.32 L1523.50,678.68 M1534.83,702.62 L1534.92,702.83 L1535.65,704.41 L1536.38,706.00 L1536.51,706.28 M1547.63,731.02 L1547.74,731.27 L1548.47,732.94 L1549.20,734.61 L1549.26,734.75 M1560.07,760.01 L1560.19,760.29 L1560.92,762.04 L1561.63,763.75 M1571.95,789.00 L1572.03,789.20 L1572.76,791.03 L1573.45,792.76 M1583.37,818.10 L1583.38,818.12 L1584.11,820.02 L1584.82,821.87 M1594.38,847.29 L1594.49,847.57 L1595.22,849.56 L1595.77,851.07 M1605.01,876.55 L1605.11,876.81 L1605.84,878.87 L1606.36,880.34 M1615.31,905.89 L1615.36,906.04 L1616.09,908.16 L1616.62,909.69 M1625.29,935.29 L1625.37,935.51 L1626.10,937.70 L1626.56,939.09 M1635.00,964.74 L1635.01,964.77 L1635.74,967.03 L1636.23,968.54 M1644.45,994.23 L1644.53,994.50 L1645.26,996.82 L1645.65,998.05 M1653.66,1023.77 L1653.69,1023.84 L1654.42,1026.22 L1654.78,1027.41 M1662.26,1051.97 L1662.35,1052.29 L1663.08,1054.72 L1663.38,1055.71 M1670.90,1080.96 L1671.02,1081.37 L1671.75,1083.85 L1671.95,1084.52 M1678.93,1108.46 L1678.95,1108.53 L1679.68,1111.06 L1680.01,1112.17 M1687.17,1137.16 L1687.25,1137.47 L1687.99,1140.05 L1688.26,1141.02 M1695.59,1167.06 L1695.67,1167.36 L1696.41,1169.98 L1696.58,1170.60 M1703.19,1194.46 L1703.24,1194.64 L1703.98,1197.30 L1704.20,1198.11 M1710.94,1222.76 L1711.05,1223.20 L1711.79,1225.90 L1711.92,1226.40 M1718.55,1250.96 L1718.62,1251.22 L1719.35,1253.95 L1719.54,1254.62" stroke="#0000ff" stroke-width="6.90" stroke-linecap="round"/>
<path d="M259.50,249.94 L259.62,249.94 L260.35,249.94 L261.09,249.94 L261.82,249.95 L262.55,249.95 L263.28,249.95 L264.02,249.95 L264.75,249.96 L265.48,249.96 L266.21,249.96 L266.95,249.96 L267.68,249.97 L268.41,249.97 L269.14,249.97 L269.88,249.97 L270.61,249.98 L271.34,249.98 L272.07,249.98 L272.80,249.98 L273.54,249.98 L274.27,249.99 L275.00,249.99 L275.73,249.99 L276.47,250.00 L277.20,250.00 L277.93,250.00 L278.66,250.00 L279.40,250.01 L280.13,250.01 L280.86,250.01 L281.59,250.01 L282.33,250.02 L283.06,250.02 L283.79,250.02 L284.52,250.02 L285.25,250.03 L285.99,250.03 L286.72,250.03 L287.45,250.03 L288.18,250.04 L288.53,250.04 M325.95,250.19 L326.02,250.19 L326.76,250.20 L327.49,250.20 L328.22,250.20 L328.95,250.21 L329.69,250.21 L330.42,250.21 L331.15,250.22 L331.88,250.22 L332.61,250.22 L333.35,250.23 L334.08,250.23 L334.81,250.23 L335.54,250.24 L336.28,250.24 L337.01,250.25 L337.74,250.25 L338.47,250.25 L339.21,250.26 L339.94,250.26 L340.67,250.26 L341.40,250.27 L342.14,250.27 L342.87,250.27 L343.60,250.28 L344.33,250.28 L345.07,250.29 L345.80,250.29 L346.53,250.29 L347.26,250.30 L347.99,250.30 L348.73,250.30 L349.46,250.31 L350.19,250.31 L350.92,250.32 L351.66,250.32 L352.39,250.32 L353.12,250.33 L353.80,250.33 M389.70,250.54 L389.74,250.54 L390.47,250.55 L391.20,250.55 L391.94,250.56 L392.67,250.56 L393.40,250.57 L394.13,250.57 L394.87,250.58 L395.60,250.58 L396.33,250.59 L397.06,250.59 L397.80,250.60 L398.53,250.60 L399.26,250.61 L399.99,250.61 L400.73,250.62 L401.46,250.62 L402.19,250.63 L402.92,250.63 L403.65,250.64 L404.39,250.64 L405.12,250.65 L405.85,250.65 L406.58,250.66 L407.32,250.66 L408.05,250.67 L408.78,250.67 L409.51,250.68 L410.25,250.68 L410.98,250.69 L411.71,250.69 L412.44,250.70 L413.18,250.70 L413.91,250.71 L414.64,250.71 L415.37,250.72 L416.10,250.73 L416.84,250.73 L417.57,250.74 L418.10,250.74 M454.70,251.05 L454.80,251.05 L455.53,251.05 L456.26,251.06 L457.00,251.07 L457.73,251.07 L458.46,251.08 L459.19,251.09 L459.92,251.10 L460.66,251.10 L461.39,251.11 L462.12,251.12 L462.85,251.12 L463.59,251.13 L464.32,251.14 L465.05,251.15 L465.78,251.15 L466.52,251.16 L467.25,251.17 L467.98,251.17 L468.71,251.18 L469.45,251.19 L470.18,251.20 L470.91,251.20 L471.64,251.21 L472.38,251.22 L473.11,251.23 L473.84,251.23 L474.57,251.24 L475.30,251.25 L476.04,251.26 L476.77,251.26 L477.50,251.27 L478.23,251.28 L478.97,251.29 L479.70,251.29 L480.43,251.30 L481.16,251.31 L481.90,251.32 L482.63,251.33 L483.10,251.33 M519.70,251.77 L519.73,251.77 L520.47,251.78 L521.20,251.79 L521.93,251.80 L522.66,251.81 L523.40,251.82 L524.13,251.83 L524.86,251.84 L525.59,251.85 L526.33,251.86 L527.06,251.87 L527.79,251.88 L528.52,251.89 L529.26,251.90 L529.99,251.91 L530.72,251.92 L531.45,251.93 L532.19,251.94 L532.92,251.95 L533.65,251.96 L534.38,251.97 L535.11,251.98 L535.85,251.99 L536.58,252.00 L537.31,252.01 L538.04,252.02 L538.78,252.03 L539.51,252.04 L540.24,252.05 L540.97,252.06 L541.71,252.07 L542.44,252.09 L543.17,252.10 L543.90,252.11 L544.64,252.12 L545.37,252.13 L546.10,252.14 L546.83,252.15 L547.57,252.16 L548.10,252.17 M584.70,252.79 L584.79,252.80 L585.53,252.81 L586.26,252.82 L586.99,252.84 L587.72,252.85 L588.46,252.87 L589.19,252.88 L589.92,252.89 L590.65,252.91 L591.39,252.92 L592.12,252.94 L592.85,252.95 L593.58,252.97 L594.31,252.98 L595.05,252.99 L595.78,253.01 L596.51,253.02 L597.24,253.04 L597.98,253.05 L598.71,253.07 L599.44,253.08 L600.17,253.10 L600.91,253.11 L601.64,253.13 L602.37,253.14 L603.10,253.16 L603.84,253.17 L604.57,253.19 L605.30,253.20 L606.03,253.22 L606.76,253.23 L607.50,253.25 L608.23,253.27 L608.96,253.28 L609.69,253.30 L610.43,253.31 L611.16,253.33 L611.89,253.34 L612.56,253.36 M648.45,254.23 L648.51,254.23 L649.24,254.25 L649.97,254.27 L650.71,254.29 L651.44,254.31 L652.17,254.33 L652.90,254.35 L653.64,254.37 L654.37,254.39 L655.10,254.41 L655.83,254.43 L656.57,254.45 L657.30,254.47 L658.03,254.49 L658.76,254.51 L659.50,254.53 L660.23,254.55 L660.96,254.57 L661.69,254.59 L662.42,254.61 L663.16,254.63 L663.89,254.65 L664.62,254.67 L665.35,254.70 L666.09,254.72 L666.82,254.74 L667.55,254.76 L668.28,254.78 L669.02,254.80 L669.75,254.83 L670.48,254.85 L671.21,254.87 L671.95,254.89 L672.68,254.91 L673.41,254.94 L674.14,254.96 L674.88,254.98 L675.61,255.00 L676.34,255.03 L677.07,255.05 L677.40,255.06 M714.70,256.35 L714.79,256.35 L715.52,256.38 L716.25,256.41 L716.99,256.43 L717.72,256.46 L718.45,256.49 L719.18,256.52 L719.92,256.55 L720.65,256.58 L721.38,256.61 L722.11,256.63 L722.85,256.66 L723.58,256.69 L724.31,256.72 L725.04,256.75 L725.77,256.78 L726.51,256.81 L727.24,256.84 L727.97,256.87 L728.70,256.90 L729.44,256.93 L730.17,256.96 L730.90,256.99 L731.63,257.02 L732.37,257.05 L733.10,257.08 L733.83,257.11 L734.56,257.15 L735.30,257.18 L736.03,257.21 L736.76,257.24 L737.49,257.27 L738.22,257.30 L738.96,257.33 L739.69,257.37 L740.42,257.40 L741.15,257.43 L741.89,257.46 L742.62,257.50 L743.11,257.52 M779.70,259.32 L779.73,259.32 L780.46,259.36 L781.19,259.40 L781.92,259.44 L782.66,259.48 L783.39,259.52 L784.12,259.56 L784.85,259.60 L785.58,259.64 L786.32,259.69 L787.05,259.73 L787.78,259.77 L788.51,259.81 L789.25,259.85 L789.98,259.89 L790.71,259.94 L791.44,259.98 L792.18,260.02 L792.91,260.06 L793.64,260.11 L794.37,260.15 L795.11,260.19 L795.84,260.24 L796.57,260.28 L797.30,260.32 L798.04,260.37 L798.77,260.41 L799.50,260.46 L800.23,260.50 L800.96,260.54 L801.70,260.59 L802.43,260.63 L803.16,260.68 L803.89,260.72 L804.63,260.77 L805.36,260.82 L806.09,260.86 L806.82,260.91 L807.56,260.95 L807.57,260.95 M843.44,263.46 L843.44,263.46 L844.17,263.51 L844.91,263.57 L845.64,263.63 L846.37,263.68 L847.10,263.74 L847.84,263.80 L848.57,263.86 L849.30,263.91 L850.03,263.97 L850.77,264.03 L851.50,264.09 L852.23,264.15 L852.96,264.21 L853.70,264.27 L854.43,264.33 L855.16,264.39 L855.89,264.45 L856.62,264.51 L857.36,264.57 L858.09,264.63 L858.82,264.69 L859.55,264.75 L860.29,264.81 L861.02,264.87 L861.75,264.94 L862.48,265.00 L863.22,265.06 L863.95,265.12 L864.68,265.19 L865.41,265.25 L866.15,265.31 L866.88,265.38 L867.61,265.44 L868.34,265.50 L869.07,265.57 L869.81,265.63 L870.54,265.70 L871.27,265.76 L871.88,265.82 M908.43,269.44 L908.50,269.45 L909.23,269.53 L909.97,269.61 L910.70,269.69 L911.43,269.77 L912.16,269.85 L912.89,269.93 L913.63,270.02 L914.36,270.10 L915.09,270.18 L915.82,270.26 L916.56,270.35 L917.29,270.43 L918.02,270.52 L918.75,270.60 L919.49,270.68 L920.22,270.77 L920.95,270.85 L921.68,270.94 L922.42,271.03 L923.15,271.11 L923.88,271.20 L924.61,271.29 L925.35,271.37 L926.08,271.46 L926.81,271.55 L927.54,271.64 L928.27,271.73 L929.01,271.82 L929.74,271.91 L930.47,272.00 L931.20,272.09 L931.94,272.18 L932.67,272.27 L933.40,272.36 L934.13,272.45 L934.87,272.54 L935.60,272.64 L936.33,272.73 L936.35,272.73 M972.16,277.75 L972.22,277.76 L972.95,277.87 L973.68,277.98 L974.41,278.10 L975.15,278.21 L975.88,278.33 L976.61,278.44 L977.34,278.56 L978.08,278.67 L978.81,278.79 L979.54,278.91 L980.27,279.03 L981.01,279.14 L981.74,279.26 L982.47,279.38 L983.20,279.50 L983.93,279.62 L984.67,279.74 L985.40,279.86 L986.13,279.98 L986.86,280.11 L987.60,280.23 L988.33,280.35 L989.06,280.47 L989.79,280.60 L990.53,280.72 L991.26,280.85 L991.99,280.97 L992.72,281.10 L993.46,281.22 L994.19,281.35 L994.92,281.48 L995.65,281.61 L996.38,281.73 L997.12,281.86 L997.85,281.99 L998.58,282.12 L999.31,282.25 L1000.05,282.38 L1000.15,282.40 M1035.87,289.45 L1035.93,289.47 L1036.67,289.62 L1037.40,289.78 L1038.13,289.95 L1038.86,290.11 L1039.59,290.27 L1040.33,290.43 L1041.06,290.59 L1041.79,290.76 L1042.52,290.92 L1043.26,291.09 L1043.99,291.25 L1044.72,291.42 L1045.45,291.58 L1046.19,291.75 L1046.92,291.92 L1047.65,292.09 L1048.38,292.26 L1049.12,292.43 L1049.85,292.60 L1050.58,292.77 L1051.31,292.94 L1052.04,293.12 L1052.78,293.29 L1053.51,293.46 L1054.24,293.64 L1054.97,293.81 L1055.71,293.99 L1056.44,294.17 L1057.17,294.35 L1057.90,294.52 L1058.64,294.70 L1059.37,294.88 L1060.10,295.06 L1060.83,295.24 L1061.57,295.43 L1062.30,295.61 L1063.00,295.78 M1097.38,305.24 L1097.45,305.26 L1098.18,305.49 L1098.92,305.71 L1099.65,305.93 L1100.38,306.15 L1101.11,306.38 L1101.85,306.60 L1102.58,306.83 L1103.31,307.06 L1104.04,307.28 L1104.78,307.51 L1105.51,307.74 L1106.24,307.97 L1106.97,308.21 L1107.70,308.44 L1108.44,308.67 L1109.17,308.90 L1109.90,309.14 L1110.63,309.38 L1111.37,309.61 L1112.10,309.85 L1112.83,310.09 L1113.56,310.33 L1114.30,310.57 L1115.03,310.81 L1115.76,311.05 L1116.49,311.30 L1117.23,311.54 L1117.96,311.79 L1118.69,312.03 L1119.42,312.28 L1120.16,312.53 L1120.89,312.78 L1121.62,313.03 L1122.35,313.28 L1123.08,313.53 L1123.48,313.67 M1156.20,326.01 L1156.29,326.05 L1157.02,326.35 L1157.75,326.65 L1158.48,326.95 L1159.21,327.26 L1159.95,327.57 L1160.68,327.87 L1161.41,328.18 L1162.14,328.49 L1162.88,328.80 L1163.61,329.11 L1164.34,329.43 L1165.07,329.74 L1165.81,330.06 L1166.54,330.37 L1167.27,330.69 L1168.00,331.01 L1168.74,331.33 L1169.47,331.65 L1170.20,331.98 L1170.93,332.30 L1171.67,332.63 L1172.40,332.95 L1173.13,333.28 L1173.86,333.61 L1174.59,333.94 L1175.33,334.27 L1176.06,334.60 L1176.79,334.94 L1177.52,335.27 L1178.26,335.61 L1178.99,335.95 L1179.72,336.29 L1180.45,336.63 L1180.84,336.81 M1211.33,352.24 L1211.34,352.25 L1212.07,352.65 L1212.80,353.05 L1213.53,353.45 L1214.26,353.86 L1215.00,354.27 L1215.73,354.68 L1216.46,355.09 L1217.19,355.50 L1217.93,355.91 L1218.66,356.33 L1219.39,356.75 L1220.12,357.16 L1220.86,357.58 L1221.59,358.01 L1222.32,358.43 L1223.05,358.85 L1223.79,359.28 L1224.52,359.71 L1225.25,360.14 L1225.98,360.57 L1226.71,361.00 L1227.45,361.44 L1228.18,361.87 L1228.91,362.31 L1229.64,362.75 L1230.38,363.19 L1231.11,363.64 L1231.84,364.08 L1232.57,364.53 L1233.31,364.97 L1233.68,365.20 M1261.03,383.22 L1261.14,383.30 L1261.87,383.82 L1262.60,384.34 L1263.33,384.86 L1264.07,385.38 L1264.80,385.91 L1265.53,386.44 L1266.26,386.97 L1267.00,387.50 L1267.73,388.03 L1268.46,388.57 L1269.19,389.11 L1269.92,389.65 L1270.66,390.19 L1271.39,390.73 L1272.12,391.28 L1272.85,391.83 L1273.59,392.38 L1274.32,392.93 L1275.05,393.48 L1275.78,394.04 L1276.52,394.60 L1277.25,395.16 L1277.98,395.72 L1278.71,396.28 L1279.45,396.85 L1280.18,397.42 L1280.91,397.99 L1281.64,398.56 L1281.84,398.72 M1307.09,419.82 L1307.15,419.88 L1307.89,420.53 L1308.62,421.18 L1309.35,421.84 L1310.08,422.50 L1310.82,423.16 L1311.55,423.83 L1312.28,424.50 L1313.01,425.17 L1313.74,425.84 L1314.48,426.51 L1315.21,427.19 L1315.94,427.87 L1316.67,428.55 L1317.41,429.24 L1318.14,429.92 L1318.87,430.61 L1319.60,431.30 L1320.34,432.00 L1321.07,432.69 L1321.80,433.39 L1322.53,434.10 L1323.27,434.80 L1324.00,435.51 L1324.73,436.22 L1325.46,436.93 L1325.67,437.13 M1348.14,460.29 L1348.17,460.32 L1348.90,461.11 L1349.63,461.91 L1350.36,462.72 L1351.10,463.52 L1351.83,464.33 L1352.56,465.15 L1353.29,465.96 L1354.02,466.78 L1354.76,467.60 L1355.49,468.43 L1356.22,469.25 L1356.95,470.08 L1357.69,470.92 L1358.42,471.75 L1359.15,472.59 L1359.88,473.43 L1360.62,474.28 L1361.35,475.12 L1362.08,475.97 L1362.81,476.83 L1363.55,477.68 L1364.28,478.54 L1364.92,479.29 M1385.21,504.42 L1385.27,504.50 L1386.01,505.45 L1386.74,506.41 L1387.47,507.36 L1388.20,508.33 L1388.93,509.29 L1389.67,510.26 L1390.40,511.23 L1391.13,512.21 L1391.86,513.19 L1392.60,514.17 L1393.33,515.16 L1394.06,516.15 L1394.79,517.14 L1395.53,518.14 L1396.26,519.13 L1396.99,520.14 L1397.72,521.14 L1398.46,522.15 L1399.19,523.17 L1399.92,524.18 L1399.97,524.26 M1417.91,550.26 L1417.99,550.37 L1418.72,551.48 L1419.45,552.59 L1420.18,553.71 L1420.91,554.83 L1421.65,555.95 L1422.38,557.08 L1423.11,558.21 L1423.84,559.34 L1424.58,560.48 L1425.31,561.62 L1426.04,562.77 L1426.77,563.91 L1427.51,565.07 L1428.24,566.22 L1428.97,567.38 L1429.70,568.55 L1430.44,569.72 L1431.17,570.89 L1431.30,571.10 M1447.64,598.28 L1447.65,598.29 L1448.38,599.56 L1449.11,600.83 L1449.84,602.10 L1450.58,603.38 L1451.31,604.66 L1452.04,605.95 L1452.77,607.23 L1453.51,608.53 L1454.24,609.83 L1454.97,611.13 L1455.70,612.43 L1456.43,613.74 L1457.17,615.06 L1457.90,616.38 L1458.00,616.56 M1458.00,616.56 L1458.02,616.60 L1458.75,617.92 L1459.49,619.25 L1460.22,620.58 L1460.95,621.91 L1461.68,623.25 L1462.42,624.60 L1463.15,625.95 L1463.88,627.30 L1464.61,628.66 L1465.35,630.02 L1466.08,631.38 L1466.81,632.75 L1467.54,634.13 L1468.27,635.51 L1469.01,636.89 L1469.56,637.93 M1483.77,665.69 L1483.78,665.70 L1484.51,667.18 L1485.24,668.66 L1485.97,670.14 L1486.71,671.63 L1487.44,673.12 L1488.17,674.62 L1488.90,676.13 L1489.64,677.63 L1490.37,679.14 L1491.10,680.66 L1491.83,682.18 L1492.56,683.71 L1493.30,685.24 L1493.92,686.53 M1506.47,713.54 L1506.48,713.56 L1507.21,715.18 L1507.94,716.80 L1508.68,718.43 L1509.41,720.06 L1510.14,721.70 L1510.87,723.34 L1511.61,724.99 L1512.34,726.64 L1513.07,728.29 L1513.80,729.95 L1514.54,731.62 L1515.27,733.29 L1516.00,734.96 L1516.32,735.70 M1528.54,764.38 L1528.57,764.46 L1529.31,766.23 L1530.04,767.99 L1530.77,769.76 L1531.50,771.54 L1532.23,773.32 L1532.97,775.11 L1533.70,776.90 L1534.43,778.70 L1535.16,780.50 L1535.90,782.31 L1536.63,784.12 L1537.18,785.48 M1547.95,812.74 L1547.98,812.83 L1548.71,814.72 L1549.45,816.62 L1550.18,818.52 L1550.91,820.43 L1551.64,822.34 L1552.37,824.26 L1553.11,826.18 L1553.84,828.11 L1554.57,830.04 L1555.30,831.98 L1556.04,833.92 L1556.05,833.96 M1566.19,861.36 L1566.29,861.65 L1567.02,863.66 L1567.75,865.69 L1568.49,867.71 L1569.22,869.75 L1569.95,871.78 L1570.68,873.83 L1571.42,875.87 L1572.15,877.93 L1572.88,879.99 L1573.61,882.05 L1573.83,882.67 M1583.43,910.19 L1583.50,910.39 L1584.23,912.52 L1584.97,914.66 L1585.70,916.81 L1586.43,918.96 L1587.16,921.11 L1587.89,923.27 L1588.63,925.44 L1589.36,927.61 L1590.09,929.78 L1590.69,931.57 M1599.83,959.17 L1599.86,959.25 L1600.59,961.50 L1601.32,963.75 L1602.05,966.00 L1602.79,968.26 L1603.52,970.53 L1604.25,972.80 L1604.98,975.07 L1605.72,977.35 L1606.45,979.63 L1606.76,980.62 M1615.51,1008.29 L1615.60,1008.59 L1616.34,1010.94 L1617.07,1013.29 L1617.80,1015.65 L1618.53,1018.02 L1619.26,1020.38 L1620.00,1022.76 L1620.73,1025.13 L1621.46,1027.51 L1622.13,1029.69 M1630.51,1057.30 L1630.62,1057.67 L1631.35,1060.11 L1632.08,1062.56 L1632.81,1065.01 L1633.55,1067.47 L1634.28,1069.93 L1635.01,1072.40 L1635.74,1074.87 L1636.48,1077.34 L1636.62,1077.83 M1644.38,1104.31 L1644.41,1104.43 L1645.14,1106.95 L1645.87,1109.48 L1646.61,1112.02 L1647.34,1114.55 L1648.07,1117.10 L1648.80,1119.64 L1649.54,1122.19 L1650.27,1124.75 L1650.30,1124.84 M1657.82,1151.32 L1657.84,1151.38 L1658.57,1153.98 L1659.30,1156.58 L1660.03,1159.19 L1660.77,1161.80 L1661.50,1164.42 L1662.23,1167.04 L1662.96,1169.66 L1663.63,1172.05 M1664.14,1173.90 L1664.18,1174.04 L1664.92,1176.67 L1665.65,1179.31 L1666.38,1181.95 L1667.11,1184.59 L1667.84,1187.24 L1668.58,1189.89 L1669.31,1192.54 L1670.04,1195.20 L1670.18,1195.71 M1677.87,1223.83 L1677.98,1224.22 L1678.71,1226.91 L1679.44,1229.62 L1680.17,1232.32 L1680.91,1235.03 L1681.64,1237.74 L1682.37,1240.45 L1683.10,1243.17 L1683.44,1244.41 M1690.54,1270.93 L1690.55,1270.96 L1691.28,1273.71 L1692.01,1276.46 L1692.75,1279.22 L1693.48,1281.97 L1694.21,1284.73 L1694.94,1287.50 L1695.67,1290.26 L1695.81,1290.77 M1702.55,1316.34 L1702.63,1316.66 L1703.36,1319.45 L1704.10,1322.24 L1704.83,1325.03 L1705.56,1327.83 L1706.29,1330.63 L1707.03,1333.43 L1707.76,1336.23 L1708.49,1339.04 L1708.61,1339.49 M1716.37,1369.34 L1716.43,1369.55 L1717.16,1372.37 L1717.89,1375.20 L1718.62,1378.03 L1719.35,1380.86 L1720.09,1383.69 L1720.82,1386.53 L1720.89,1386.80" stroke="#00ff00" stroke-width="6.90" stroke-linecap="round"/>
</g>
<g class="t" font-size="63.75" text-anchor="end">
<text x="214.7" y="0" transform="translate(0,73.50) scale(1,1.022)">1.1</text>
<text x="214.7" y="0" transform="translate(0,267.36) scale(1,1.022)">1.0</text>
<text x="214.7" y="0" transform="translate(0,461.21) scale(1,1.022)">0.9</text>
<text x="214.7" y="0" transform="translate(0,655.07) scale(1,1.022)">0.8</text>
<text x="214.7" y="0" transform="translate(0,848.93) scale(1,1.022)">0.7</text>
<text x="214.7" y="0" transform="translate(0,1042.79) scale(1,1.022)">0.6</text>
<text x="214.7" y="0" transform="translate(0,1236.64) scale(1,1.022)">0.5</text>
<text x="214.7" y="0" transform="translate(0,1430.50) scale(1,1.022)">0.4</text>
</g>
<g class="t" font-size="57.40">
<text x="221.3" y="0" transform="translate(0,1510.3) scale(1,1.022)">10<tspan font-size="38.00" dy="-23.6">0</tspan></text>
<text x="642.5" y="0" transform="translate(0,1510.3) scale(1,1.022)">10<tspan font-size="38.00" dy="-23.6">1</tspan></text>
<text x="1063.8" y="0" transform="translate(0,1510.3) scale(1,1.022)">10<tspan font-size="38.00" dy="-23.6">2</tspan></text>
<text x="1485.0" y="0" transform="translate(0,1510.3) scale(1,1.022)">10<tspan font-size="38.00" dy="-23.6">3</tspan></text>
<text x="1906.3" y="0" transform="translate(0,1510.3) scale(1,1.022)">10<tspan font-size="38.00" dy="-23.6">4</tspan></text>
</g>
<g class="t" font-size="76.50">
<text y="1628"><tspan x="983.3">p</tspan><tspan x="1022.9" dy="-31.8" font-size="52.00">'</tspan><tspan x="1051.8" dy="31.8">(kPa)</tspan></text>
<text transform="translate(90,810.3) rotate(-90)"><tspan x="0" y="0">e</tspan><tspan font-size="52.00" x="34" y="21">c</tspan><tspan x="76" y="0">(-)</tspan></text>
</g>
<path d="M1100.70,220.90 L1105.50,220.90 L1131.10,246.50 L1131.10,251.30 L1105.50,276.90 L1100.70,276.90 L1075.10,251.30 L1075.10,246.50 Z M1103.10,235.75 L1089.95,248.90 L1103.10,262.05 L1116.25,248.90 Z" fill="#000" fill-rule="evenodd"/>
<rect x="287.4" y="746.3" width="917.5" height="643.3" fill="#fff" stroke="#000" stroke-width="2.6"/>
<path d="M380.55,909.40 L385.35,909.40 L410.95,935.00 L410.95,939.80 L385.35,965.40 L380.55,965.40 L354.95,939.80 L354.95,935.00 Z M382.95,924.25 L369.80,937.40 L382.95,950.55 L396.10,937.40 Z" fill="#000" fill-rule="evenodd"/>
<g fill="none" stroke-width="7.2" stroke-linecap="round">
<line x1="490.5" y1="1145.4" x2="663.6" y2="1145.4" stroke="#ff0000"/>
<path d="M490.5,1241.5 h27.8 M555.6,1241.5 h27.8 M620.6,1241.5 h27.8" stroke="#00ff00"/>
<path d="M490.5,1336.3 h5 M529.2,1336.3 h5 M567.9,1336.3 h5 M606.6,1336.3 h5 M645.3,1336.3 h5" stroke="#0000ff"/>
</g>
<g class="t" font-size="76.50">
<text y="840"><tspan x="568.5">e</tspan><tspan x="601.8" dy="21.4" font-size="52.0">c</tspan><tspan x="707.3" dy="-21.4">a</tspan><tspan x="738.3" dy="6.2">·</tspan><tspan x="760.5" dy="-6.2">e</tspan><tspan x="795" dy="-30.5" font-size="52.0">b</tspan><tspan x="818.8" dy="2.2" font-size="52.0">·</tspan><tspan x="834" dy="-2.2" font-size="52.0">p</tspan><tspan x="860" dy="-22.6" font-size="36.0">'</tspan><tspan x="866" dy="22.6" font-size="52.0">/p</tspan><tspan x="906.5" dy="14.5" font-size="36.0">a</tspan></text>
<text y="963"><tspan x="487.2">I</tspan><tspan x="513.2" dy="21" font-size="52.0">Di</tspan><tspan x="647.8" dy="-21">0.00</tspan><tspan x="785">;</tspan><tspan x="823.3">σ</tspan><tspan x="869.6" dy="-31.6" font-size="52.0">'</tspan><tspan x="878.3" dy="52.6" font-size="52.0">c</tspan><tspan x="945.6" dy="-21">100 kPa</tspan></text>
<text x="641.80" y="840.00" font-size="76.50" transform="translate(663.41,813.45) scale(1.115,0.79) translate(-663.41,-814.60)">=</text>
<text x="582.90" y="963.00" font-size="76.50" transform="translate(604.51,936.45) scale(1.115,0.79) translate(-604.51,-937.60)">=</text>
<text x="900.00" y="963.00" font-size="76.50" transform="translate(921.61,936.45) scale(1.115,0.79) translate(-921.61,-937.60)">=</text>
<text y="1077.40"><tspan x="619.30">a</tspan><tspan x="734.65">1.00</tspan></text>
<text x="672.38" y="1077.40" font-size="76.50" transform="translate(693.99,1050.85) scale(1.115,0.79) translate(-693.99,-1052.00)">=</text>
<text y="1171.60"><tspan x="682.00">b</tspan><tspan x="801.64">-0.035</tspan></text>
<text x="739.38" y="1171.60" font-size="76.50" transform="translate(760.99,1145.05) scale(1.115,0.79) translate(-760.99,-1146.20)">=</text>
<text y="1267.00"><tspan x="682.00">b</tspan><tspan x="801.64">-0.030</tspan></text>
<text x="739.38" y="1267.00" font-size="76.50" transform="translate(760.99,1240.45) scale(1.115,0.79) translate(-760.99,-1241.60)">=</text>
<text y="1362.40"><tspan x="682.00">b</tspan><tspan x="801.64">-0.025</tspan></text>
<text x="739.38" y="1362.40" font-size="76.50" transform="translate(760.99,1335.85) scale(1.115,0.79) translate(-760.99,-1337.00)">=</text>
</g>
<g transform="translate(1192.2,763.7) rotate(-47.325)">
<line x1="0" y1="0" x2="581.0" y2="0" stroke="#000" stroke-width="6.6" stroke-dasharray="30 16.5 10 16 10 16.5" />
<path d="M616.5,0 L580.0,-11.7 L580.0,-3.3 L576.0,-3.3 L576.0,3.3 L580.0,3.3 L580.0,11.7 Z" fill="#000" stroke="#000" stroke-width="0.8" stroke-linejoin="round"/>
</g>
<text class="t" font-size="70.10" transform="translate(1247.3,592.1) rotate(-45.000)">increasing b</text>
</svg>
</body>
</html>
